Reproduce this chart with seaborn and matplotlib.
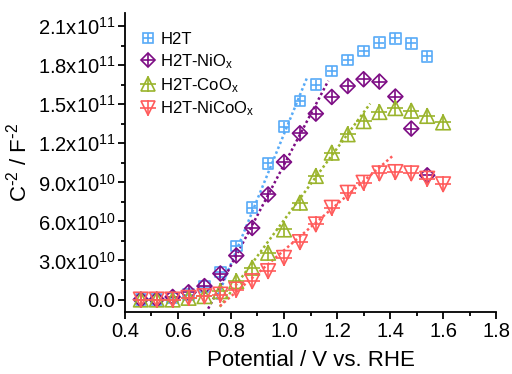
import matplotlib
matplotlib.use("Agg")
import matplotlib.pyplot as plt
import seaborn as sns
import pandas as pd
from matplotlib.lines import Line2D
from matplotlib.ticker import MultipleLocator, FixedLocator

# ---------------- data ----------------
potential = [0.46, 0.52, 0.58, 0.64, 0.70, 0.76, 0.82, 0.88, 0.94, 1.00,
             1.06, 1.12, 1.18, 1.24, 1.30, 1.36, 1.42, 1.48, 1.54, 1.60]

# values in units of 1e10 F^-2
h2t = [0.0, 0.0, 0.13, 0.38, 1.0, 2.1, 4.1, 7.05, 10.46, 13.28,
       15.26, 16.5, 17.56, 18.4, 19.1, 19.74, 20.05, 19.67, 18.67]
h2t_nio = [0.0, 0.0, 0.2, 0.56, 1.03, 2.0, 3.38, 5.5, 8.07, 10.56,
           12.77, 14.28, 15.56, 16.4, 16.92, 16.74, 15.59, 13.13, 9.54]
h2t_coo = [0.0, 0.0, 0.0, 0.13, 0.26, 0.64, 1.41, 2.44, 3.59, 5.38,
           7.44, 9.49, 11.28, 12.69, 13.7, 14.4, 14.7, 14.5, 14.1, 13.6]
h2t_nicoo = [0.0, 0.0, 0.0, 0.13, 0.26, 0.38, 0.77, 1.41, 2.18, 3.2,
             4.41, 5.77, 7.05, 8.2, 8.97, 9.69, 9.79, 9.69, 9.28, 8.85]

# linear fit segments (x range and y at ends, 1e10 units)
fit_h2t_x, fit_h2t_y = [0.745, 1.088], [0.0, 17.1]
fit_nio_x, fit_nio_y = [0.714, 1.167], [-0.7, 16.8]
fit_coo_x, fit_coo_y = [0.758, 1.325], [-0.56, 15.05]
fit_nicoo_x, fit_nicoo_y = [0.758, 1.412], [-0.5, 11.07]

series_names = ["H2T", "H2T-NiO$_x$", "H2T-CoO$_x$", "H2T-NiCoO$_x$"]
x_ticks = [0.4, 0.6, 0.8, 1.0, 1.2, 1.4, 1.6, 1.8]
y_tick_vals = [0, 3e10, 6e10, 9e10, 1.2e11, 1.5e11, 1.8e11, 2.1e11]
y_tick_labels = ["0.0", "3.0x10$^{10}$", "6.0x10$^{10}$", "9.0x10$^{10}$",
                 "1.2x10$^{11}$", "1.5x10$^{11}$", "1.8x10$^{11}$", "2.1x10$^{11}$"]

# ---------------- style ----------------
sns.set_style("ticks")
plt.rcParams["font.family"] = ["Liberation Sans", "DejaVu Sans"]
plt.rcParams["mathtext.default"] = "regular"
plt.rcParams["text.color"] = "black"
plt.rcParams["axes.labelcolor"] = "black"
plt.rcParams["xtick.color"] = "black"
plt.rcParams["ytick.color"] = "black"

colors = ["#57aaf7", "#7d0c84", "#9ab42c", "#ff5b5b"]
shapes = ["s", "D", "^", "v"]
shape_sizes = [58, 58, 110, 110]
plus_sizes = [58, 115, 145, 145]
fits = [(fit_h2t_x, fit_h2t_y), (fit_nio_x, fit_nio_y),
        (fit_coo_x, fit_coo_y), (fit_nicoo_x, fit_nicoo_y)]
values = [h2t, h2t_nio, h2t_coo, h2t_nicoo]

fig = plt.figure(figsize=(5.12, 3.74), dpi=100)
ax = fig.add_axes([0.244, 0.166, 0.725, 0.799])

for name, vals, col, shp, ss, ps, (fx, fy) in zip(series_names, values, colors,
                                                   shapes, shape_sizes, plus_sizes, fits):
    df = pd.DataFrame({"x": potential[:len(vals)], "y": [v * 1e10 for v in vals]})
    sns.scatterplot(data=df, x="x", y="y", marker=shp, s=ss, facecolors="none",
                    edgecolor=col, linewidth=1.2, ax=ax, zorder=3)
    sns.scatterplot(data=df, x="x", y="y", marker="+", s=ps, color=col,
                    linewidth=1.2, ax=ax, zorder=3)
    fdf = pd.DataFrame({"x": fx, "y": [v * 1e10 for v in fy]})
    sns.lineplot(data=fdf, x="x", y="y", color=col, linestyle=(0, (1, 1.1)),
                 linewidth=1.8, ax=ax, zorder=2)

ax.set_xlim(0.4, 1.8)
ax.set_ylim(-0.95e10, 2.2e11)
ax.xaxis.set_major_locator(FixedLocator(x_ticks))
ax.xaxis.set_minor_locator(MultipleLocator(0.1))
ax.set_yticks(y_tick_vals)
ax.set_yticklabels(y_tick_labels)
ax.yaxis.set_minor_locator(MultipleLocator(1.5e10))
ax.set_xticklabels([f"{t:.1f}" for t in x_ticks])

for side in ["top", "right"]:
    ax.spines[side].set_visible(False)
for side in ["left", "bottom"]:
    ax.spines[side].set_linewidth(1.3)
    ax.spines[side].set_color("black")
ax.tick_params(axis="both", which="major", length=5, width=1.3, labelsize=14.5,
               colors="black", direction="out", pad=2)
ax.tick_params(axis="both", which="minor", length=3, width=1.3, direction="out")

ax.set_xlabel("Potential / V vs. RHE", fontsize=16, labelpad=7)
ax.set_ylabel(r"C$^{\text{-}2}$ / F$^{\text{-}2}$", fontsize=16, labelpad=4)

handles = []
for col, shp, ss, ps in zip(colors, shapes, shape_sizes, plus_sizes):
    h1 = Line2D([], [], linestyle="none", marker=shp, markersize=ss ** 0.5 * 0.9,
                markerfacecolor="none", markeredgecolor=col, markeredgewidth=1.2)
    h2 = Line2D([], [], linestyle="none", marker="+", markersize=ps ** 0.5 * 0.9,
                color=col, markeredgewidth=1.2)
    handles.append((h1, h2))
leg = ax.legend(handles, series_names, loc="upper left", bbox_to_anchor=(0.01, 0.975),
                frameon=False, fontsize=12, handlelength=0.9, handletextpad=0.3,
                labelspacing=0.3, borderaxespad=0.3)

fig.savefig("out.png", dpi=100)
